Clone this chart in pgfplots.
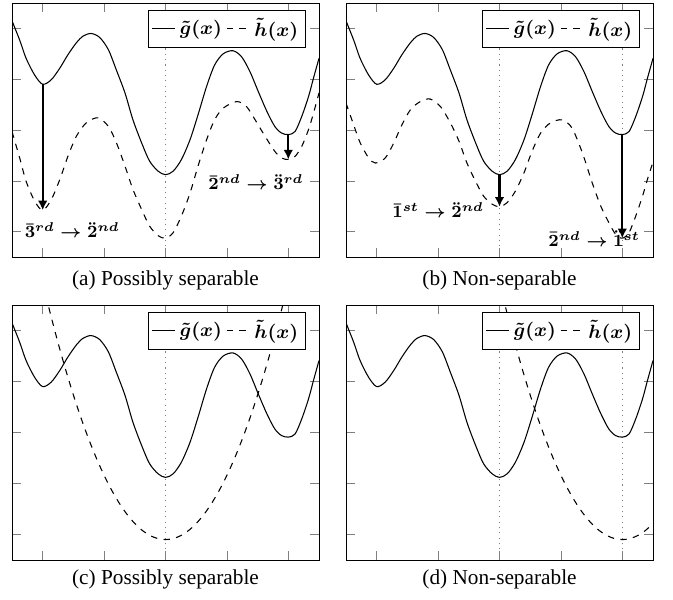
\documentclass[border=0pt]{standalone}
\usepackage{amsmath}
\usepackage{fontspec}
\setmainfont{Liberation Serif}
\usepackage{pgfplots}
\usepackage{pgfplotstable}
\pgfplotsset{compat=1.18}
\usetikzlibrary{arrows.meta}

\pgfplotstableread{
x y
-2.50 4.15
-2.375 3.77
-2.27 3.41
-2.13 3.08
-2.00 2.90
-1.86 2.99
-1.72 3.22
-1.59 3.48
-1.45 3.72
-1.34 3.85
-1.21 3.90
-1.07 3.82
-0.93 3.58
-0.80 3.18
-0.66 2.73
-0.53 2.20
-0.39 1.75
-0.26 1.39
-0.12 1.19
0.00 1.12
0.125 1.19
0.26 1.42
0.40 1.81
0.53 2.30
0.67 2.86
0.80 3.28
0.94 3.50
1.10 3.56
1.24 3.44
1.375 3.15
1.51 2.76
1.65 2.37
1.78 2.07
1.89 1.94
2.00 1.91
2.11 1.97
2.22 2.27
2.33 2.66
2.41 3.02
2.50 3.41
}\gdata

\pgfplotstableread{
x y
-2.50 1.97
-2.375 1.45
-2.27 0.99
-2.13 0.60
-2.00 0.42
-1.86 0.63
-1.72 1.03
-1.59 1.48
-1.45 1.88
-1.29 2.14
-1.10 2.24
-0.93 2.07
-0.80 1.75
-0.66 1.29
-0.53 0.83
-0.39 0.44
-0.26 0.11
-0.12 -0.08
0.00 -0.13
0.125 -0.02
0.26 0.31
0.40 0.76
0.53 1.29
0.67 1.81
0.80 2.20
0.94 2.43
1.16 2.56
1.32 2.46
1.46 2.20
1.62 1.88
1.78 1.58
1.89 1.45
2.00 1.42
2.11 1.48
2.22 1.68
2.33 2.01
2.41 2.33
2.50 2.73
}\hadata

\pgfplotstableread{
x y
-2.50 2.53
-2.375 2.10
-2.27 1.75
-2.13 1.45
-2.02 1.35
-1.86 1.45
-1.72 1.75
-1.59 2.10
-1.45 2.40
-1.29 2.56
-1.13 2.61
-0.96 2.46
-0.80 2.14
-0.66 1.78
-0.53 1.35
-0.39 0.99
-0.26 0.70
-0.12 0.54
0.00 0.49
0.125 0.57
0.26 0.80
0.40 1.16
0.53 1.58
0.67 1.94
0.83 2.14
1.02 2.20
1.18 2.04
1.35 1.55
1.51 0.96
1.65 0.50
1.78 0.18
1.89 -0.05
2.00 -0.13
2.11 -0.02
2.22 0.31
2.33 0.70
2.41 1.03
2.50 1.37
}\hbdata

\pgfplotstableread{
x y
-2.000 4.940
-1.875 4.330
-1.750 3.759
-1.625 3.227
-1.500 2.735
-1.375 2.282
-1.250 1.869
-1.125 1.495
-1.000 1.160
-0.875 0.865
-0.750 0.609
-0.625 0.392
-0.500 0.215
-0.375 0.077
-0.250 -0.021
-0.125 -0.080
0.000 -0.100
0.125 -0.080
0.250 -0.021
0.375 0.077
0.500 0.215
0.625 0.392
0.750 0.609
0.875 0.865
1.000 1.160
1.125 1.495
1.250 1.869
1.375 2.282
1.500 2.735
1.625 3.227
1.750 3.759
1.875 4.330
2.000 4.940
}\hcdata

\pgfplotstableread{
x y
0.000 4.940
0.125 4.330
0.250 3.759
0.375 3.227
0.500 2.735
0.625 2.282
0.750 1.869
0.875 1.495
1.000 1.160
1.125 0.865
1.250 0.609
1.375 0.392
1.500 0.215
1.625 0.077
1.750 -0.021
1.875 -0.080
2.000 -0.100
2.125 -0.080
2.250 -0.021
2.375 0.077
2.500 0.215
}\hddata

\pgfplotsset{
  panel/.style={
    scale only axis, width=144.29pt, anchor=south west,
    xmin=-2.5, xmax=2.5, ymin=-0.5, ymax=4.5,
    xtick={-2,-1,0,1,2}, ytick={0,1,2,3,4},
    xticklabels={}, yticklabels={},
    legend columns=2,
    legend style={at={(0.958,0.971)}, anchor=north east, draw=black, fill=white,
      font=\small, inner sep=1.5pt,
      /tikz/every even column/.append style={column sep=0pt},
      /tikz/every odd column/.append style={column sep=0pt}},
    legend image code/.code={\draw[#1] (0cm,0cm) -- (0.38cm,0cm);},
  },
  gline/.style={black, line width=0.5pt, smooth, tension=0.5},
  hline/.style={black, dashed, line width=0.5pt, smooth, tension=0.5},
  vdot/.style={gray, dotted, line width=0.5pt, forget plot},
  arr/.style={black, line width=1.1pt, -{Latex[length=4.5pt,width=4.5pt]}, forget plot},
}
\newcommand{\lab}[1]{\footnotesize$\boldsymbol{#1}$}

\begin{document}
\begin{tikzpicture}
% (a)
\begin{axis}[panel, height=119.38pt, at={(5.64pt,160.74pt)}]
\addplot[vdot] coordinates {(0,-0.5) (0,4.5)};
\addplot[gline] table[x=x,y=y] {\gdata};
\addplot[hline] table[x=x,y=y] {\hadata};
\addlegendentry{$\boldsymbol{\tilde{g}(x)}$}
\addlegendentry{$\boldsymbol{\tilde{h}(x)}$}
\addplot[arr] coordinates {(-2,2.90) (-2,0.42)};
\addplot[arr] coordinates {(2,1.91) (2,1.42)};
\node at (axis cs:-1.52,0.03) {\lab{\bar{3}^{rd}\rightarrow\ddot{2}^{nd}}};
\node at (axis cs:1.47,0.98) {\lab{\bar{2}^{nd}\rightarrow\ddot{3}^{rd}}};
\end{axis}
% (b)
\begin{axis}[panel, height=119.38pt, at={(162.62pt,160.74pt)}]
\addplot[vdot] coordinates {(0,-0.5) (0,4.5)};
\addplot[vdot] coordinates {(2,-0.5) (2,4.5)};
\addplot[gline] table[x=x,y=y] {\gdata};
\addplot[hline] table[x=x,y=y] {\hbdata};
\addlegendentry{$\boldsymbol{\tilde{g}(x)}$}
\addlegendentry{$\boldsymbol{\tilde{h}(x)}$}
\addplot[arr] coordinates {(0,1.12) (0,0.49)};
\addplot[arr] coordinates {(2,1.91) (2,-0.13)};
\node at (axis cs:-1.0,0.42) {\lab{\bar{1}^{st}\rightarrow\ddot{2}^{nd}}};
\node at (axis cs:1.54,-0.14) {\lab{\bar{2}^{nd}\rightarrow\ddot{1}^{st}}};
\end{axis}
% (c)
\begin{axis}[panel, height=119.85pt, at={(5.64pt,18.33pt)}]
\addplot[vdot] coordinates {(0,-0.5) (0,4.5)};
\addplot[gline] table[x=x,y=y] {\gdata};
\addplot[hline] table[x=x,y=y] {\hcdata};
\addlegendentry{$\boldsymbol{\tilde{g}(x)}$}
\addlegendentry{$\boldsymbol{\tilde{h}(x)}$}
\end{axis}
% (d)
\begin{axis}[panel, height=119.85pt, at={(162.62pt,18.33pt)}]
\addplot[vdot] coordinates {(0,-0.5) (0,4.5)};
\addplot[vdot] coordinates {(2,-0.5) (2,4.5)};
\addplot[gline] table[x=x,y=y] {\gdata};
\addplot[hline] table[x=x,y=y] {\hddata};
\addlegendentry{$\boldsymbol{\tilde{g}(x)}$}
\addlegendentry{$\boldsymbol{\tilde{h}(x)}$}
\end{axis}
\node[anchor=base] at (77.79pt,147.3pt) {(a) Possibly separable};
\node[anchor=base] at (234.77pt,147.3pt) {(b) Non-separable};
\node[anchor=base] at (77.79pt,6.6pt) {(c) Possibly separable};
\node[anchor=base] at (234.77pt,6.6pt) {(d) Non-separable};
\pgfresetboundingbox
\path[use as bounding box] (0pt,0pt) rectangle (316.31pt,281.53pt);
\end{tikzpicture}
\end{document}
